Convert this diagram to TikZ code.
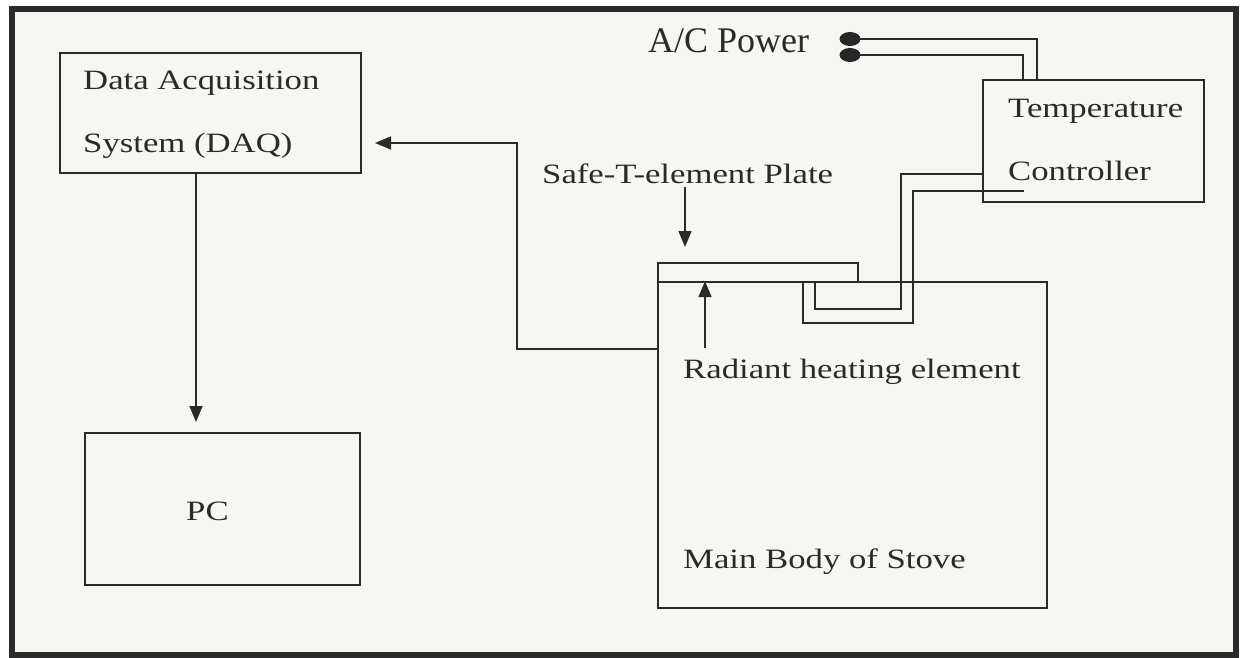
\documentclass[tikz,border=0pt]{standalone}
\usepackage{fontspec}
\setmainfont{Liberation Serif}
\newfontfamily\widefont[FakeStretch=1.24]{Liberation Serif}
\usetikzlibrary{arrows.meta,calc,shapes.geometric}
\definecolor{ink}{HTML}{2A2A2A}
\definecolor{paper}{HTML}{F6F6F3}
\tikzset{
  box/.style={draw=ink, line width=1.8pt, rectangle, inner sep=0pt},
  wire/.style={draw=ink, line width=1.6pt},
  arr/.style={wire, -{Triangle[length=16pt,width=13pt]}},
  lbl/.style={anchor=base west, inner sep=0pt, text=ink, font=\widefont\fontsize{28}{30}\selectfont},
  dot/.style={fill=ink!90!black, ellipse, minimum width=21pt, minimum height=14pt, inner sep=0pt}
}
\begin{document}
\begin{tikzpicture}[x=1pt,y=-1pt]
\useasboundingbox (0,0) rectangle (1242,658);
\fill[white] (0,0) rectangle (1242,658);
\fill[paper] (12,9) rectangle (1236,655);
\draw[ink, line width=5.5pt] (12,9) rectangle (1236,655);

% boxes
\node[box, minimum width=301pt, minimum height=120pt] (daq) at (210.5,113) {};
\node[box, minimum width=275pt, minimum height=152pt] (pc) at (222.5,509) {};
\node[box, minimum width=389pt, minimum height=326pt] (stove) at (852.5,445) {};
\node[box, minimum width=200pt, minimum height=19pt] (plate) at (758,272.5) {};
\node[box, minimum width=221pt, minimum height=122pt] (ctrl) at (1093.5,141) {};

% labels
\node[lbl] (daq1) at (83,90) {Data Acquisition};
\node[lbl] (daq2) at (83,153) {System (DAQ)};
\node[lbl] (pclbl) at (186,520) {PC};
\node[lbl] (tc1) at (1008,118) {Temperature};
\node[lbl] (tc2) at (1008,180) {Controller};
\node[lbl] (safe) at (542,183) {Safe-T-element Plate};
\node[lbl] (rad) at (683,378) {Radiant heating element};
\node[lbl] (main) at (683,568) {Main Body of Stove};
\node[anchor=base west, inner sep=0pt, text=ink, font=\fontsize{36}{38}\selectfont] (ac) at (648,53) {A/C Power};

% power terminals
\node[dot] (p1) at (850,39) {};
\node[dot] (p2) at (850,55) {};
\coordinate (c1) at (1037,80);
\coordinate (c2) at (1023,80);
\draw[wire] (p1.center) -| (c1);
\draw[wire] (p2.center) -| (c2);

% arrows
\coordinate (pctip) at (196,422);
\draw[arr] (daq.south -| pctip) -- (pctip);

\coordinate (s1) at (658,349);
\coordinate (daqtip) at (375,143);
\draw[arr] (s1) -- (517,349) |- (daqtip);

\coordinate (safetail) at (685,187);
\coordinate (safetip) at (685,247);
\draw[arr] (safetail) -- (safetip);

\coordinate (radtail) at (705,348);
\draw[arr] (radtail) -- (stove.north -| radtail);

% heater wires to controller
\coordinate (w1a) at (815,282);
\coordinate (w1b) at (983,174);
\draw[wire] (w1a) -- (815,309) -- (901,309) |- (w1b);
\coordinate (w2a) at (803,282);
\coordinate (w2b) at (1024,191);
\draw[wire] (w2a) -- (803,323) -- (913,323) |- (w2b);
\end{tikzpicture}
\end{document}
